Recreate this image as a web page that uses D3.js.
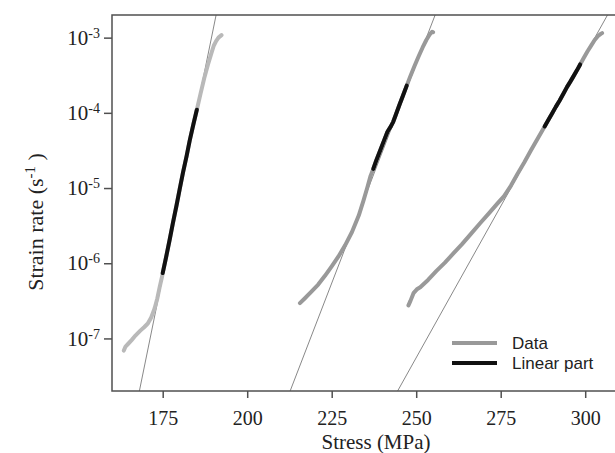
<!DOCTYPE html>
<html>
<head>
<meta charset="utf-8">
<script src="https://cdn.jsdelivr.net/npm/d3@7"></script>
<style>
  body { margin: 0; background: #fff; }
  svg { display: block; }
</style>
</head>
<body>
<svg id="chart" width="615" height="453"></svg>
<script>
// stress (MPa) / strain rate (1/s)
const series1 = [
    [163.5, 6.9e-8], [164.0, 7.8e-8], [164.8, 8.5e-8], [165.8, 9.5e-8], [167.0, 1.1e-7],
    [168.3, 1.26e-7], [169.5, 1.41e-7], [170.6, 1.58e-7], [171.6, 1.9e-7], [172.6, 2.5e-7],
    [173.4, 3.4e-7], [174.1, 4.8e-7], [174.8, 6.6e-7], [175.0, 7.4e-7], [176.0, 1.2e-6],
    [177.1, 2.1e-6], [178.0, 3.4e-6], [179.1, 5.9e-6], [180.0, 9.5e-6], [181.0, 1.6e-5],
    [182.1, 2.7e-5], [183.0, 4.3e-5], [184.1, 7.1e-5], [185.1, 1.1e-4], [186.2, 1.8e-4],
    [187.3, 2.9e-4], [188.4, 4.4e-4], [189.3, 6.0e-4], [190.1, 7.8e-4], [190.8, 9.0e-4],
    [191.5, 1.0e-3], [192.4, 1.08e-3]
];
const series2 = [
    [215.6, 2.95e-7], [217.0, 3.4e-7], [219.0, 4.2e-7], [221.0, 5.2e-7], [223.0, 6.8e-7],
    [225.0, 9.1e-7], [227.0, 1.23e-6], [229.0, 1.74e-6], [231.0, 2.6e-6], [233.0, 4.3e-6],
    [234.4, 6.8e-6], [235.5, 1.0e-5], [236.5, 1.45e-5], [237.3, 1.8e-5], [238.3, 2.4e-5],
    [239.4, 3.2e-5], [240.5, 4.3e-5], [241.5, 5.6e-5], [242.5, 6.6e-5], [243.2, 7.6e-5],
    [244.0, 9.5e-5], [245.0, 1.26e-4], [246.1, 1.7e-4], [247.2, 2.3e-4], [248.3, 3.1e-4],
    [249.5, 4.2e-4], [250.7, 5.6e-4], [251.9, 7.4e-4], [253.0, 9.3e-4], [254.0, 1.1e-3],
    [254.7, 1.2e-3], [255.0, 1.18e-3]
];
const series3 = [
    [247.7, 2.75e-7], [248.3, 3.16e-7], [249.2, 4.0e-7], [250.2, 4.5e-7], [251.2, 4.8e-7],
    [253.5, 6.0e-7], [256.0, 7.9e-7], [258.5, 1.02e-6], [261.0, 1.35e-6], [263.5, 1.78e-6],
    [266.0, 2.4e-6], [268.9, 3.4e-6], [271.5, 4.6e-6], [274.0, 6.2e-6], [276.0, 7.8e-6],
    [278.0, 1.07e-5], [280.0, 1.55e-5], [282.0, 2.2e-5], [284.0, 3.2e-5], [286.0, 4.6e-5],
    [288.0, 6.6e-5], [289.0, 7.9e-5], [290.2, 9.8e-5], [291.3, 1.2e-4], [292.4, 1.45e-4],
    [293.5, 1.78e-4], [294.6, 2.2e-4], [295.6, 2.6e-4], [296.6, 3.1e-4], [297.6, 3.7e-4],
    [298.5, 4.4e-4], [299.6, 5.4e-4], [300.7, 6.6e-4], [301.8, 7.9e-4], [302.8, 9.3e-4],
    [303.8, 1.05e-3], [304.6, 1.12e-3], [305.0, 1.15e-3]
];
const dataColors = ["#b9b9b9", "#999999", "#999999"];

// stress interval drawn in black for each series
const linearRanges = [[175.0, 185.1], [237.3, 247.2], [288.0, 298.5]];

// fitted lines, given by two end points each
const fitLines = [
    [[168.1, 2e-8], [190.8, 2e-3]],
    [[212.7, 2e-8], [255.6, 2e-3]],
    [[244.5, 2e-8], [306.6, 2e-3]]
];

const xTicks = [175, 200, 225, 250, 275, 300];
const yTicks = [1e-7, 1e-6, 1e-5, 1e-4, 1e-3];
const legendLabels = ["Data", "Linear part"];

const margin = { top: 15, left: 112, bottom: 62 };
const width = 507, height = 453 - margin.top - margin.bottom;
const serif = "'Liberation Serif', 'Times New Roman', serif";
const sans = "'Liberation Sans', Arial, sans-serif";

const svg = d3.select("#chart")
    .append("g")
    .attr("transform", `translate(${margin.left},${margin.top})`);

const x = d3.scaleLinear().domain([160, 310]).range([0, width]);
const y = d3.scaleLog().domain([2e-8, 2e-3]).range([height, 0]);

svg.append("defs").append("clipPath")
    .attr("id", "plot-clip")
    .append("rect")
    .attr("width", width)
    .attr("height", height);

const line = d3.line().x(d => x(d[0])).y(d => y(d[1]));
const plot = svg.append("g").attr("clip-path", "url(#plot-clip)");

plot.selectAll(".fit")
    .data(fitLines)
    .enter()
    .append("path")
    .attr("class", "fit")
    .attr("d", line)
    .attr("fill", "none")
    .attr("stroke", "#6a6a6a")
    .attr("stroke-width", 0.8);

const allSeries = [series1, series2, series3];

plot.selectAll(".data")
    .data(allSeries)
    .enter()
    .append("path")
    .attr("class", "data")
    .attr("d", line)
    .attr("fill", "none")
    .attr("stroke", (d, i) => dataColors[i])
    .attr("stroke-width", 4)
    .attr("stroke-linecap", "round")
    .attr("stroke-linejoin", "round");

plot.selectAll(".linear")
    .data(allSeries.map((s, i) => s.filter(d => d[0] >= linearRanges[i][0] && d[0] <= linearRanges[i][1])))
    .enter()
    .append("path")
    .attr("class", "linear")
    .attr("d", line)
    .attr("fill", "none")
    .attr("stroke", "#111")
    .attr("stroke-width", 4)
    .attr("stroke-linecap", "round")
    .attr("stroke-linejoin", "round");

// frame
svg.append("rect")
    .attr("width", width)
    .attr("height", height)
    .attr("fill", "none")
    .attr("stroke", "#505050")
    .attr("stroke-width", 1.5);

const xAxis = svg.append("g")
    .attr("transform", `translate(0,${height})`)
    .call(d3.axisBottom(x).tickValues(xTicks).tickSize(7).tickSizeOuter(0));
xAxis.select(".domain").remove();
xAxis.selectAll("line").attr("stroke", "#505050").attr("stroke-width", 1.5);
xAxis.selectAll("text")
    .attr("y", 34)
    .attr("dy", null)
    .style("font-family", serif)
    .style("font-size", "20px")
    .attr("fill", "#222");

const yAxis = svg.append("g")
    .call(d3.axisLeft(y).tickValues(yTicks).tickSize(8).tickSizeOuter(0));
yAxis.select(".domain").remove();
yAxis.selectAll("line").attr("stroke", "#505050").attr("stroke-width", 1.5);
yAxis.selectAll("text")
    .attr("x", -12)
    .attr("dy", "0.32em")
    .style("font-family", serif)
    .style("font-size", "21px")
    .attr("fill", "#222")
    .each(function (d) {
        const t = d3.select(this);
        t.text(null);
        t.append("tspan").text("10");
        t.append("tspan")
            .attr("dy", "-0.5em")
            .style("font-size", "14px")
            .text(Math.round(Math.log10(d)));
    });

svg.append("text")
    .attr("x", 264)
    .attr("y", height + 57.5)
    .attr("text-anchor", "middle")
    .style("font-family", serif)
    .style("font-size", "21px")
    .attr("fill", "#222")
    .text("Stress (MPa)");

const yTitle = svg.append("text")
    .attr("transform", `translate(${43 - margin.left},${222 - margin.top}) rotate(-90)`)
    .attr("text-anchor", "middle")
    .style("font-family", serif)
    .style("font-size", "22px")
    .attr("fill", "#222");
yTitle.append("tspan").text("Strain rate (s");
yTitle.append("tspan").attr("dy", "-0.55em").style("font-size", "15px").text("-1");
yTitle.append("tspan").attr("dy", "0.37em").text(" )");

// legend
const legend = svg.append("g").attr("transform", `translate(${452 - margin.left},${343 - margin.top})`);
legend.selectAll("line")
    .data(legendLabels)
    .enter()
    .append("line")
    .attr("x1", 0)
    .attr("x2", 45)
    .attr("y1", (d, i) => i * 20)
    .attr("y2", (d, i) => i * 20)
    .attr("stroke", (d, i) => i === 0 ? "#999" : "#111")
    .attr("stroke-width", 4);
legend.selectAll("text")
    .data(legendLabels)
    .enter()
    .append("text")
    .attr("x", 60)
    .attr("y", (d, i) => i * 20 + 6)
    .style("font-family", sans)
    .style("font-size", "17px")
    .attr("fill", "#222")
    .text(d => d);
</script>
</body>
</html>
